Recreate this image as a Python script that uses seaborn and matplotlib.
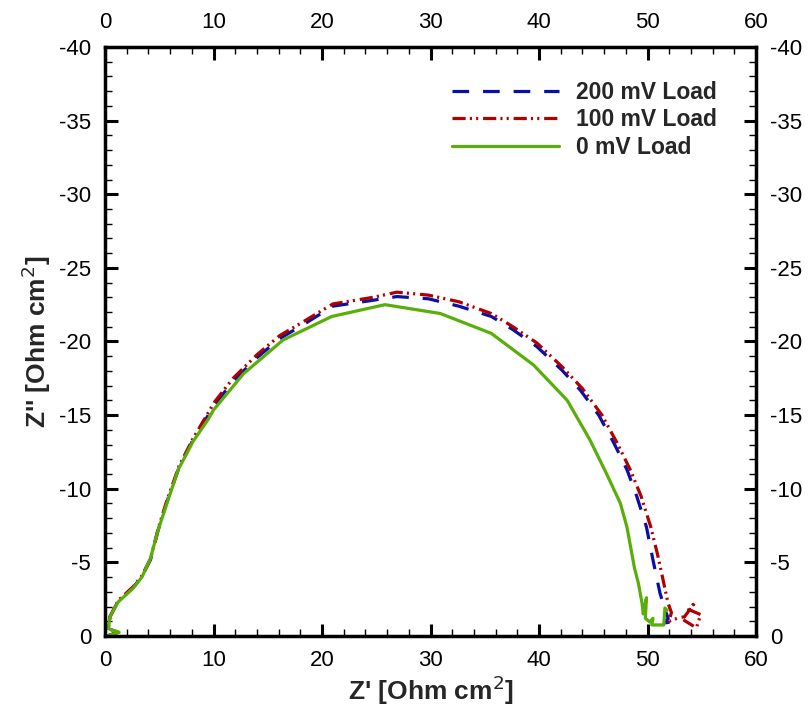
import matplotlib
matplotlib.use("Agg")
import matplotlib.pyplot as plt
from matplotlib.ticker import MultipleLocator
import seaborn as sns
import pandas as pd

# ---- data ----
green_x = [0.2, 1.3, 0.3, 0.45, 1.2, 2.6, 3.4, 4.15, 4.9, 5.7, 6.75, 8.1, 9.5, 10.0, 12.75,
           16.4, 20.9, 25.8, 30.9, 35.6, 39.5, 42.6, 44.7, 46.2, 47.5, 48.1, 48.8, 49.15,
           49.5, 49.6, 49.9, 49.8, 50.2, 50.5, 50.4, 51.5, 51.6, 51.8]
green_y = [0, -0.25, -0.5, -1.3, -2.3, -3.25, -4.0, -5.2, -7.2, -9.0, -11.3, -13.2, -14.7,
           -15.35, -17.8, -20.1, -21.7, -22.5, -21.9, -20.55, -18.4, -16.0, -13.3, -11.05,
           -9.0, -7.4, -4.6, -3.6, -2.2, -1.5, -2.6, -1.2, -0.95, -1.2, -0.75, -0.75, -1.9, -1.75]

blue_x = [0.2, 1.2, 0.3, 0.45, 1.2, 2.6, 3.4, 4.2, 4.9, 5.7, 6.8, 8.1, 10.1, 11.8, 14.0, 16.1,
          18.4, 21.0, 24.7, 26.9, 29.8, 32.6, 35.6, 37.6, 39.8, 42.1, 43.8, 45.5, 46.9, 48.1,
          49.0, 49.9, 50.5, 51.15, 51.7, 51.9, 51.6, 52.4, 52.6]
blue_y = [0, -0.25, -0.5, -1.3, -2.35, -3.3, -4.05, -5.2, -7.2, -9.1, -11.4, -13.3, -15.7,
          -17.3, -18.9, -20.2, -21.2, -22.4, -22.8, -23.05, -22.9, -22.4, -21.7, -20.8,
          -19.65, -18.06, -16.7, -15.0, -13.1, -11.3, -9.5, -7.4, -5.16, -2.9, -1.6, -1.2,
          -0.9, -0.95, -1.2]

red_x = [0.2, 1.2, 0.3, 0.45, 1.2, 2.6, 3.4, 4.2, 4.9, 5.7, 6.8, 8.1, 10.1, 11.8, 14.0, 16.1,
         18.4, 21.0, 24.7, 26.9, 29.8, 32.6, 35.6, 37.6, 39.8, 42.1, 44.0, 45.8, 47.2, 48.4,
         49.4, 50.3, 50.9, 51.3, 51.9, 52.2, 52.0, 52.9, 53.4, 54.4, 53.8, 54.9, 54.5, 53.3]
red_y = [0, -0.25, -0.5, -1.3, -2.4, -3.35, -4.1, -5.25, -7.3, -9.2, -11.5, -13.4, -15.9,
         -17.5, -19.1, -20.4, -21.4, -22.55, -23.0, -23.35, -23.15, -22.7, -21.9, -21.0,
         -19.9, -18.3, -16.8, -15.0, -13.1, -11.3, -9.5, -7.4, -5.6, -4.26, -2.2, -1.6,
         -1.0, -1.25, -1.3, -2.3, -1.8, -1.45, -0.55, -1.1]

labels = ["200 mV Load", "100 mV Load", "0 mV Load"]
x_ticks = [0, 10, 20, 30, 40, 50, 60]
y_ticks = [0, -5, -10, -15, -20, -25, -30, -35, -40]

# ---- style ----
sns.set_style("ticks")
plt.rcParams["font.family"] = ["Liberation Sans", "DejaVu Sans"]
plt.rcParams["axes.unicode_minus"] = False
plt.rcParams["lines.scale_dashes"] = False

fig = plt.figure(figsize=(8.08, 7.15), dpi=100)
ax = fig.add_axes([0.130, 0.1105, 0.8057, 0.8238])

series = [
    (blue_x, blue_y, labels[0], "#0a0fa8", (0, (12.0, 10.0))),
    (red_x, red_y, labels[1], "#b00000", (0, (9.5, 3.0, 1.5, 3.0, 1.5, 3.5))),
    (green_x, green_y, labels[2], "#5aae0a", "-"),
]
for xs, ys, lab, col, ls in series:
    df = pd.DataFrame({"x": xs, "y": ys})
    sns.lineplot(data=df, x="x", y="y", sort=False, estimator=None, ax=ax,
                 color=col, linewidth=2.3, linestyle=ls, label=lab)

ax.set_xlim(0, 60)
ax.set_ylim(0, -40)
ax.set_xticks(x_ticks)
ax.set_yticks(y_ticks)
ax.xaxis.set_minor_locator(MultipleLocator(2))
ax.yaxis.set_minor_locator(MultipleLocator(1))
ax.tick_params(which="both", direction="in", top=True, right=True,
               labeltop=True, labelright=True, labelsize=16, colors="black")
ax.tick_params(which="major", length=9, width=2.2, pad=10)
ax.tick_params(which="minor", length=5, width=1.0)
for sp in ax.spines.values():
    sp.set_linewidth(2.5)
    sp.set_color("black")

ax.set_xlabel("Z' [Ohm cm$^2$]", fontsize=19, fontweight="bold", labelpad=2)
ax.set_ylabel("Z'' [Ohm cm$^2$]", fontsize=19, fontweight="bold", labelpad=4)

leg = ax.legend(loc="upper left", bbox_to_anchor=(0.501, 0.978), frameon=False,
                handlelength=4.67, handletextpad=0.74, labelspacing=0.2,
                prop={"family": ["Liberation Sans", "DejaVu Sans"], "weight": "bold", "size": 16.5})

fig.savefig("out.png", dpi=100)
